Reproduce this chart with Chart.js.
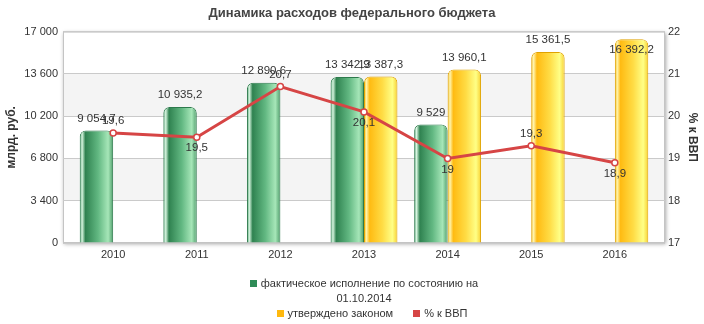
<!DOCTYPE html>
<html lang="ru">
<head>
<meta charset="utf-8">
<title>Динамика расходов федерального бюджета</title>
<script src="https://cdn.jsdelivr.net/npm/chart.js@4.4.1/dist/chart.umd.min.js"></script>
<style>
  body { margin: 0; background: #fff; }
  #wrap { position: relative; width: 704px; height: 324px; overflow: hidden; }
  #chart { position: absolute; left: 0; top: 0; }
  #legend {
    position: absolute; left: 63px; top: 276px; width: 602px;
    text-align: center; color: #333; line-height: 15px;
    font: 11px 'Liberation Sans', Arial, sans-serif;
  }
  #legend .row { display: block; }
  #legend .row.second { padding-left: 16px; }
  #legend .item { display: inline-block; vertical-align: top; margin: 0 10px; line-height: 15px; }
  #legend .wide { width: 252px; }
  #legend i { display: inline-block; width: 7px; height: 7px; margin-right: 4px; vertical-align: 0; }
</style>
</head>
<body>
<div id="wrap">
  <canvas id="chart" width="704" height="324"></canvas>
  <div id="legend"></div>
</div>
<script>
const years = ['2010', '2011', '2012', '2013', '2014', '2015', '2016'];
const actual = [9054.7, 10935.2, 12890.6, 13342.9, 9529, null, null];
const approved = [null, null, null, 13387.3, 13960.1, 15361.5, 16392.2];
const gdpShare = [19.6, 19.5, 20.7, 20.1, 19, 19.3, 18.9];
const leftTicks = [0, 3400, 6800, 10200, 13600, 17000];
const rightTicks = [17, 18, 19, 20, 21, 22];

Chart.defaults.font.family = "'Liberation Sans', Arial, sans-serif";
Chart.defaults.color = '#333';

// 13342.9 -> "13 342,9"
const fmt = function (v) {
  const parts = String(v).split('.');
  parts[0] = parts[0].replace(/\B(?=(\d{3})+(?!\d))/g, ' ');
  return parts.join(',');
};

const greenShade = [[0, '#3a9160'], [0.07, '#d8f6e0'], [0.17, '#2f8250'], [0.55, '#62b882'], [0.85, '#a6e6b8'], [1, '#4f9e6b']];
const yellowShade = [[0, '#f3b400'], [0.07, '#fff5b0'], [0.17, '#ffbb12'], [0.55, '#ffdc45'], [0.85, '#ffff86'], [1, '#f8d030']];

// white plot box with a soft shadow and two grey bands
const plotFrame = {
  id: 'plotFrame',
  beforeDraw(chart) {
    const { ctx, chartArea: a, scales } = chart;
    const y = scales.y;
    ctx.save();
    ctx.shadowColor = 'rgba(0,0,0,0.35)';
    ctx.shadowBlur = 4;
    ctx.shadowOffsetX = 1;
    ctx.shadowOffsetY = 1;
    ctx.fillStyle = '#fff';
    ctx.fillRect(a.left, a.top, a.width, a.height);
    ctx.restore();

    ctx.save();
    ctx.fillStyle = '#f4f4f4';
    for (let i = 1; i < leftTicks.length - 1; i += 2) {
      const y0 = y.getPixelForValue(leftTicks[i]);
      const y1 = y.getPixelForValue(leftTicks[i + 1]);
      ctx.fillRect(a.left, y1, a.width, y0 - y1);
    }
    ctx.strokeStyle = '#c4c4c4';
    ctx.lineWidth = 1;
    ctx.strokeRect(a.left + 0.5, a.top + 0.5, a.width - 1, a.height - 1);
    ctx.restore();
  }
};

// horizontal gradient per bar for the cylinder look
const barShading = {
  id: 'barShading',
  beforeDatasetsDraw(chart) {
    const ctx = chart.ctx;
    chart.data.datasets.forEach((ds, di) => {
      if (ds.type !== 'bar') return;
      chart.getDatasetMeta(di).data.forEach(el => {
        if (!isFinite(el.x) || !isFinite(el.width)) return;
        const g = ctx.createLinearGradient(el.x - el.width / 2, 0, el.x + el.width / 2, 0);
        ds.shade.forEach(s => g.addColorStop(s[0], s[1]));
        el.options = Object.assign({}, el.options, { backgroundColor: g });
      });
    });
  }
};

// numbers over bars and next to the line points
const valueLabels = {
  id: 'valueLabels',
  afterDatasetsDraw(chart) {
    const { ctx, chartArea: a } = chart;
    ctx.save();
    ctx.font = "11.5px 'Liberation Sans', Arial, sans-serif";
    ctx.fillStyle = '#333';
    ctx.textAlign = 'center';
    ctx.textBaseline = 'middle';
    chart.data.datasets.forEach((ds, di) => {
      const meta = chart.getDatasetMeta(di);
      const values = ds.data.map(d => d.y);
      meta.data.forEach((el, i) => {
        const v = values[i];
        if (v === null || v === undefined) return;
        let ty;
        if (ds.type === 'bar') {
          ty = el.y - 12;
          if (ty - 7 < a.top) ty = el.y + 11;
        } else {
          const below = i > 0 && v < values[i - 1];
          ty = below ? el.y + 11 : el.y - 12;
        }
        ctx.fillText(fmt(v), el.x, ty);
      });
    });
    ctx.restore();
  }
};

const chart = new Chart(document.getElementById('chart'), {
  data: {
    datasets: [
      {
        type: 'line',
        label: '% к ВВП',
        data: gdpShare.map((v, i) => ({ x: i, y: v })),
        yAxisID: 'y1',
        order: 0,
        borderColor: '#d64545',
        borderWidth: 3,
        pointRadius: 3,
        pointBackgroundColor: '#fff',
        pointBorderColor: '#d64545',
        pointBorderWidth: 1.5,
        legendColor: '#d64545'
      },
      {
        type: 'bar',
        label: 'фактическое исполнение по состоянию на 01.10.2014',
        data: actual.map((v, i) => ({ x: i, y: v })),
        yAxisID: 'y',
        order: 1,
        backgroundColor: '#5aae78',
        borderColor: '#2d7a4c',
        borderWidth: 1,
        borderRadius: { topLeft: 6, topRight: 6 },
        borderSkipped: 'start',
        categoryPercentage: 0.8,
        barPercentage: 1,
        shade: greenShade,
        legendColor: '#2e8b57'
      },
      {
        type: 'bar',
        label: 'утверждено законом',
        data: approved.map((v, i) => ({ x: i, y: v })),
        yAxisID: 'y',
        order: 1,
        backgroundColor: '#ffd030',
        borderColor: '#e0a200',
        borderWidth: 1,
        borderRadius: { topLeft: 6, topRight: 6 },
        borderSkipped: 'start',
        categoryPercentage: 0.8,
        barPercentage: 1,
        shade: yellowShade,
        legendColor: '#ffb90f'
      }
    ]
  },
  options: {
    responsive: false,
    animation: false,
    layout: { padding: { left: 0, right: 0, top: 0, bottom: 61 } },
    plugins: {
      legend: { display: false },
      tooltip: { enabled: false },
      title: {
        display: true,
        text: 'Динамика расходов федерального бюджета',
        color: '#444',
        font: { size: 13, weight: 'bold' },
        padding: { top: 6, bottom: 10 }
      }
    },
    scales: {
      x: {
        type: 'linear',
        offset: false,
        min: -0.6,
        max: 6.6,
        grid: { display: false, drawTicks: false },
        border: { display: false },
        afterBuildTicks: s => { s.ticks = years.map((_, i) => ({ value: i })); },
        ticks: { autoSkip: false, maxRotation: 0, padding: 5, font: { size: 11 }, callback: v => years[v] },
        afterFit: s => { s.height = 20; }
      },
      y: {
        position: 'left',
        min: 0,
        max: 17000,
        afterBuildTicks: s => { s.ticks = leftTicks.map(v => ({ value: v })); },
        ticks: { padding: 5, font: { size: 11 }, callback: v => fmt(v) },
        grid: { color: '#cacaca', drawTicks: false },
        border: { display: false },
        title: { display: true, text: 'млрд. руб.', color: '#333', font: { size: 12, weight: 'bold' } },
        afterFit: s => { s.width = 63; }
      },
      y1: {
        position: 'right',
        min: 17,
        max: 22,
        afterBuildTicks: s => { s.ticks = rightTicks.map(v => ({ value: v })); },
        ticks: { padding: 3, font: { size: 11 } },
        grid: { display: false, drawTicks: false },
        border: { display: false },
        title: { display: true, text: '% к ВВП', color: '#333', font: { size: 12, weight: 'bold' } },
        afterFit: s => { s.width = 39; }
      }
    }
  },
  plugins: [plotFrame, barShading, valueLabels]
});

// legend: the long item wraps on its own, the other two share the last row
const legend = document.getElementById('legend');
const ds = chart.data.datasets;
const makeItem = function (d, cls) {
  const span = document.createElement('span');
  span.className = 'item' + (cls ? ' ' + cls : '');
  span.innerHTML = '<i style="background:' + d.legendColor + '"></i>' + d.label;
  return span;
};
const row1 = document.createElement('div');
row1.className = 'row';
row1.appendChild(makeItem(ds[1], 'wide'));
const row2 = document.createElement('div');
row2.className = 'row second';
row2.appendChild(makeItem(ds[2]));
row2.appendChild(makeItem(ds[0]));
legend.appendChild(row1);
legend.appendChild(row2);
</script>
</body>
</html>
